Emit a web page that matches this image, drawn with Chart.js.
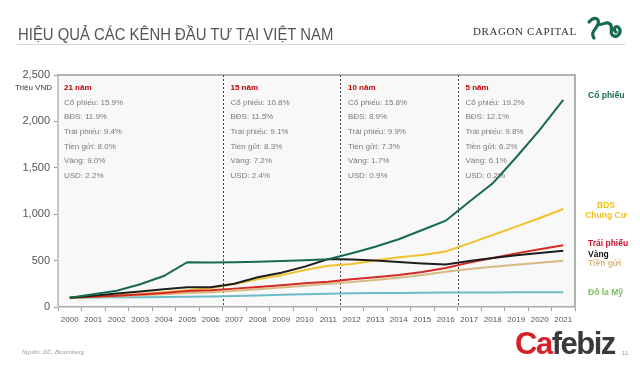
<!DOCTYPE html>
<html>
<head>
<meta charset="utf-8">
<script src="https://cdn.jsdelivr.net/npm/chart.js@4.4.1/dist/chart.umd.min.js"></script>
<style>
  html, body { margin: 0; padding: 0; background: #fff; }
  #wrap { position: relative; width: 640px; height: 365px; overflow: hidden; font-family: "Liberation Sans", Arial, sans-serif; }
  #c { position: absolute; left: 0; top: 0; }
  .title { position: absolute; left: 18px; top: 26px; font-family: "Liberation Sans Narrow", "Liberation Sans", Arial, sans-serif; font-size: 16px; color: #555; white-space: nowrap; transform: scaleX(0.93); transform-origin: left top; }
  .rule { position: absolute; left: 17px; top: 44px; width: 608px; height: 1px; background: #d6d6d6; }
  .brand { position: absolute; left: 473px; top: 25px; font-family: "Liberation Serif", serif; font-size: 11px; letter-spacing: 0.6px; color: #333; }
  .logo { position: absolute; left: 586px; top: 14px; }
  .src { position: absolute; left: 22px; top: 349px; font-size: 6px; font-style: italic; color: #999; }
  .cafe { position: absolute; left: 515px; top: 326px; font-size: 31px; font-weight: bold; letter-spacing: -1.5px; color: #3a3a3a; }
  .cafe span { color: #d71f26; }
  .pg { position: absolute; left: 622px; top: 350px; font-size: 6px; color: #999; }
</style>
</head>
<body>
<div id="wrap">
  <canvas id="c" width="640" height="365"></canvas>
  <div class="title">HIỆU QUẢ CÁC KÊNH ĐẦU TƯ TẠI VIỆT NAM</div>
  <div class="rule"></div>
  <div class="brand">DRAGON CAPITAL</div>
  <svg class="logo" width="40" height="28" viewBox="0 0 40 28">
    <path d="M3 8 C8 2, 14 4, 12 10 C10 16, 4 18, 8 24 M12 10 C18 12, 20 6, 24 10 C28 14, 22 20, 28 22 C32 24, 36 18, 33 14 C30 10, 26 16, 30 18"
          fill="none" stroke="#17694f" stroke-width="3.2" stroke-linecap="round"/>
  </svg>
  <div class="src">Nguồn: DC, Bloomberg</div>
  <div class="cafe"><span>Ca</span>febiz</div>
  <div class="pg">11</div>
</div>
<script>
const years = ['2000', '2001', '2002', '2003', '2004', '2005', '2006', '2007', '2008', '2009', '2010',
  '2011', '2012', '2013', '2014', '2015', '2016', '2017', '2018', '2019', '2020', '2021'];

// Triệu VND, 100 invested in 2000
const coPhieu  = [100, 137, 176, 245, 334, 483, 480, 482, 488, 495, 505, 515, 580, 650, 730, 830, 930, 1135, 1333, 1614, 1908, 2231];
const vang     = [100, 122, 145, 168, 190, 212, 212, 250, 320, 370, 435, 517, 512, 500, 485, 470, 457, 496, 528, 557, 582, 607];
const traiPhieu = [100, 110, 122, 136, 152, 172, 180, 198, 216, 234, 255, 273, 298, 320, 345, 377, 420, 478, 528, 578, 622, 665];
const bds      = [100, 110, 125, 140, 158, 180, 205, 248, 298, 341, 399, 445, 463, 500, 535, 560, 598, 686, 776, 866, 959, 1056];
const tienGui  = [100, 108, 117, 126, 137, 150, 160, 175, 192, 210, 230, 250, 270, 292, 315, 345, 380, 410, 435, 455, 478, 499];
const usd      = [100, 102, 104, 105, 107, 110, 113, 118, 124, 131, 138, 144, 148, 150, 152, 154, 156, 157, 157, 158, 158, 158];

const yTicks = [0, 500, 1000, 1500, 2000, 2500];

// period boxes
const periodStarts = ['2000', '2007', '2012', '2017'];
const periodNames = ['21 năm', '15 năm', '10 năm', '5 năm'];
const statNames = ['Cổ phiếu', 'BĐS', 'Trái phiếu', 'Tiền gửi', 'Vàng', 'USD'];
const stat21 = [15.9, 11.9, 9.4, 8.0, 9.0, 2.2];
const stat15 = [10.8, 11.5, 9.1, 8.3, 7.2, 2.4];
const stat10 = [15.8, 8.9, 9.9, 7.3, 1.7, 0.9];
const stat5  = [19.2, 12.1, 9.8, 6.2, 6.1, 0.2];
const periodStats = [stat21, stat15, stat10, stat5];

const C = {
  co: '#17694f', vang: '#1e1e1e', trai: '#d42a26', bds: '#f2c12e', tien: '#d8b982', usd: '#6dbbc4'
};

// right side labels: [text lines, colour, dataset index, offsets]
const endLabels = [
  { lines: ['Cổ phiếu'], color: '#17694f', ds: 0, dy: [-4] },
  { lines: ['BDS', 'Chung Cư'], color: '#f0c020', ds: 3, dy: [-3, 7], center: true },
  { lines: ['Trái phiếu'], color: '#c8102e', ds: 2, dy: [-2] },
  { lines: ['Vàng'], color: '#111', ds: 1, dy: [4] },
  { lines: ['Tiền gửi'], color: '#d8b982', ds: 4, dy: [3] },
  { lines: ['Đô la Mỹ'], color: '#7cc05e', ds: 5, dy: [0] }
];

const deco = {
  id: 'deco',
  beforeDraw(chart) {
    const { ctx, chartArea: a } = chart;
    ctx.save();
    ctx.fillStyle = '#f8f8f8';
    ctx.fillRect(a.left, a.top, a.right - a.left, a.bottom - a.top);
    ctx.restore();
  },
  beforeDatasetsDraw(chart) {
    const { ctx, chartArea: a, scales } = chart;
    const x = scales.x;
    ctx.save();
    // frame top / right
    ctx.strokeStyle = '#9a9a9a';
    ctx.lineWidth = 1.5;
    ctx.beginPath();
    ctx.moveTo(a.left, a.top);
    ctx.lineTo(a.right, a.top);
    ctx.lineTo(a.right, a.bottom);
    ctx.stroke();
    // period dividers
    ctx.strokeStyle = '#444';
    ctx.lineWidth = 1;
    ctx.setLineDash([2, 2]);
    periodStarts.slice(1).forEach(y => {
      const i = years.indexOf(y);
      const px = Math.round((x.getPixelForValue(i - 1) + x.getPixelForValue(i)) / 2) + 0.5;
      ctx.beginPath();
      ctx.moveTo(px, a.top);
      ctx.lineTo(px, a.bottom);
      ctx.stroke();
    });
    ctx.setLineDash([]);
    // period texts
    ctx.textBaseline = 'middle';
    ctx.textAlign = 'left';
    periodStarts.forEach((y, p) => {
      const i = years.indexOf(y);
      const px = i === 0 ? a.left + 6 : (x.getPixelForValue(i - 1) + x.getPixelForValue(i)) / 2 + 8;
      ctx.font = 'bold 8px "Liberation Sans", Arial, sans-serif';
      ctx.fillStyle = '#c00000';
      ctx.fillText(periodNames[p], px, a.top + 13);
      ctx.font = '8px "Liberation Sans", Arial, sans-serif';
      ctx.fillStyle = '#7a7a7a';
      statNames.forEach((n, k) => {
        ctx.fillText(n + ': ' + periodStats[p][k].toFixed(1) + '%', px, a.top + 27.5 + k * 14.6);
      });
    });
    ctx.restore();
  },
  afterDraw(chart) {
    const { ctx, chartArea: a, scales } = chart;
    ctx.save();
    ctx.textBaseline = 'middle';
    ctx.font = 'bold 8.5px "Liberation Sans", Arial, sans-serif';
    endLabels.forEach(l => {
      const d = chart.data.datasets[l.ds].data;
      const py = scales.y.getPixelForValue(d[d.length - 1]);
      ctx.fillStyle = l.color;
      l.lines.forEach((t, k) => {
        if (l.center) {
          ctx.textAlign = 'center';
          ctx.fillText(t, a.right + 31, py + l.dy[k]);
        } else {
          ctx.textAlign = 'left';
          ctx.fillText(t, a.right + 13, py + l.dy[k]);
        }
      });
    });
    ctx.textAlign = 'right';
    ctx.fillStyle = '#333';
    ctx.font = '8px "Liberation Sans", Arial, sans-serif';
    ctx.fillText('Triệu VND', a.left - 6, a.top + 13);
    ctx.restore();
  }
};

function line(label, data, color) {
  return { label, data, borderColor: color, backgroundColor: color, borderWidth: 2, pointRadius: 0, tension: 0, fill: false };
}

new Chart(document.getElementById('c'), {
  type: 'line',
  data: {
    labels: years,
    datasets: [
      line('Cổ phiếu', coPhieu, C.co),
      line('Vàng', vang, C.vang),
      line('Trái phiếu', traiPhieu, C.trai),
      line('BĐS Chung Cư', bds, C.bds),
      line('Tiền gửi', tienGui, C.tien),
      line('Đô la Mỹ', usd, C.usd)
    ]
  },
  options: {
    responsive: false,
    animation: false,
    layout: { padding: { left: 0, top: 75, right: 65, bottom: 0 } },
    plugins: { legend: { display: false }, tooltip: { enabled: false } },
    scales: {
      x: {
        offset: true,
        grid: { offset: true, drawOnChartArea: false, tickLength: 4, color: '#999' },
        border: { color: '#aaa', width: 1.5 },
        ticks: { color: '#555', font: { size: 8 }, padding: 4, maxRotation: 0, autoSkip: false },
        afterFit: s => { s.height = 58; }
      },
      y: {
        min: 0,
        max: 2500,
        afterBuildTicks: s => { s.ticks = yTicks.map(v => ({ value: v })); },
        grid: { drawOnChartArea: false, tickLength: 4, color: '#999' },
        border: { color: '#c4c4c4', width: 2 },
        ticks: { color: '#555', font: { size: 11 }, padding: 4, callback: v => v.toLocaleString('en-US') },
        afterFit: s => { s.width = 58; }
      }
    }
  },
  plugins: [deco]
});
</script>
</body>
</html>
